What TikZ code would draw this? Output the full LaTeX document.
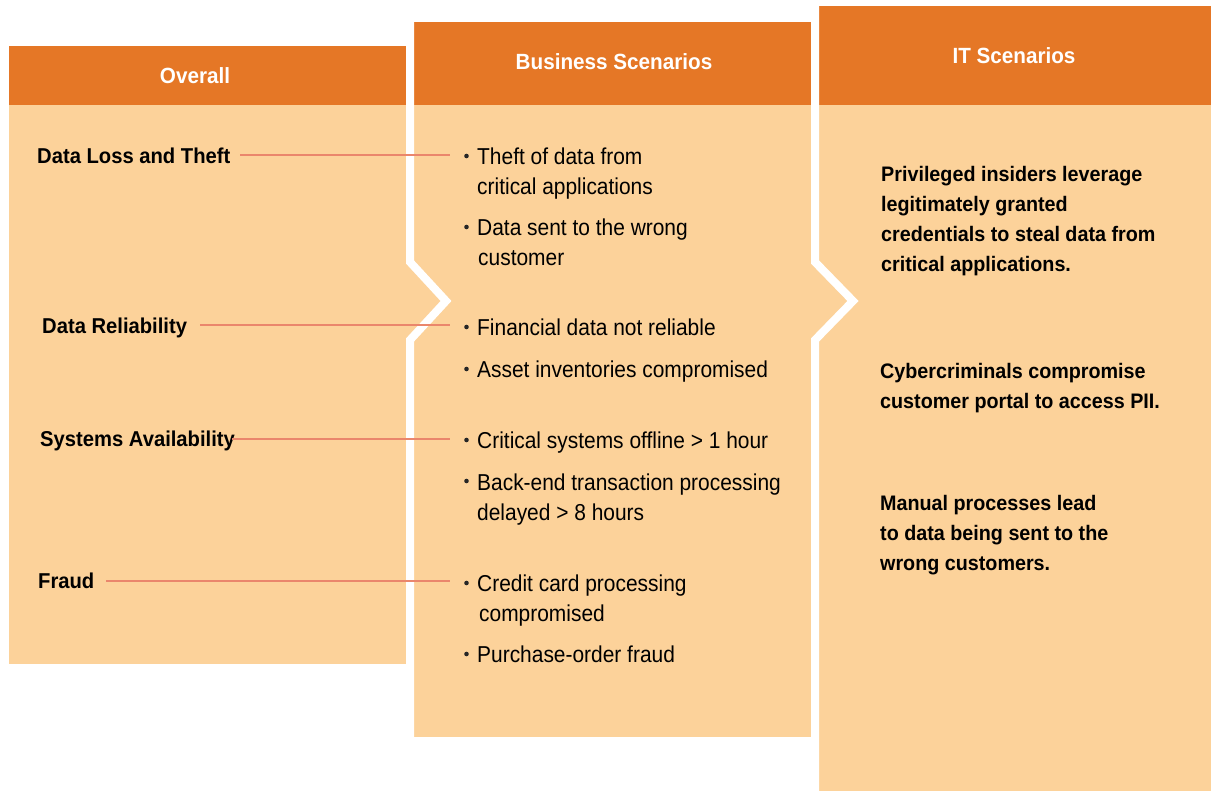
\documentclass[tikz,border=0pt]{standalone}
\usepackage{fontspec}
\setmainfont{Liberation Sans}[FakeStretch=0.91]
\newfontfamily\headfont{Liberation Sans}[FakeStretch=0.94]
\definecolor{headorange}{HTML}{E57726}
\definecolor{bodypeach}{HTML}{FCD29A}
\definecolor{linksalmon}{HTML}{EA866C}
\begin{document}
\begin{tikzpicture}[x=1pt,y=-1pt,
  headtxt/.style={text=white,font=\headfont\bfseries\fontsize{22}{26}\selectfont,inner sep=0pt,
    text height=15.75pt,text depth=0pt,anchor=center},
  cattxt/.style={font=\headfont\bfseries\fontsize{21.5}{26}\selectfont,inner sep=0pt,
    text height=15.4pt,text depth=0pt,anchor=west},
  itemtxt/.style={font=\fontsize{23}{28}\selectfont,inner sep=0pt,
    text height=16.45pt,text depth=0pt,anchor=west},
  ittxt/.style={font=\headfont\bfseries\fontsize{21}{26}\selectfont,inner sep=0pt,
    text height=15.05pt,text depth=0pt,anchor=west},
  dot/.style={circle,fill=black!85,inner sep=0pt,minimum size=4.6pt},
  link/.style={draw=linksalmon,line width=2pt},
  gap/.style={draw=white,line width=8pt,miter limit=10}]
\useasboundingbox (0,0) rectangle (1211,791);

% column bodies
\fill[bodypeach] (9,105) rectangle (410,664);
\fill[bodypeach] (410,105) rectangle (815,737);
\fill[bodypeach] (815,105) rectangle (1211,791);

% column headers
\fill[headorange] (9,46) rectangle (406,105);
\fill[headorange] (414,22) rectangle (811,105);
\fill[headorange] (819,6) rectangle (1211,105);

% white chevron gaps between the columns
\draw[gap] (410,0) -- (410,262) -- (446,301) -- (410,340) -- (410,791);
\draw[gap] (815,0) -- (815,262) -- (853,301) -- (815,340) -- (815,791);

% header titles
\node[headtxt] (hOverall) at (195,76) {Overall};
\node[headtxt] (hBusiness) at (614,62) {Business Scenarios};
\node[headtxt] (hIT) at (1014,56) {IT Scenarios};

% overall categories
\node[cattxt] (cLoss) at (37,156) {Data Loss and Theft};
\node[cattxt] (cRel) at (42,326) {Data Reliability};
\node[cattxt] (cAvail) at (40,438.5) {Systems Availability};
\node[cattxt] (cFraud) at (38,581) {Fraud};

% business scenario bullets
\node[dot] (d1) at (466.5,156) {};
\node[itemtxt] (b1) at (477,156.5) {Theft of data from};
\node[itemtxt] (b1b) at (477,186.5) {critical applications};
\node[dot] (d2) at (466.5,227) {};
\node[itemtxt] (b2) at (477,227) {Data sent to the wrong};
\node[itemtxt] (b2b) at (478,257) {customer};
\node[dot] (d3) at (466.5,327) {};
\node[itemtxt] (b3) at (477,327.5) {Financial data not reliable};
\node[dot] (d4) at (466.5,369) {};
\node[itemtxt] (b4) at (477,369.5) {Asset inventories compromised};
\node[dot] (d5) at (466.5,440) {};
\node[itemtxt] (b5) at (477,440.5) {Critical systems offline > 1 hour};
\node[dot] (d6) at (466.5,481) {};
\node[itemtxt] (b6) at (477,482) {Back-end transaction processing};
\node[itemtxt] (b6b) at (477,512.5) {delayed > 8 hours};
\node[dot] (d7) at (466.5,583) {};
\node[itemtxt] (b7) at (477,583.5) {Credit card processing};
\node[itemtxt] (b7b) at (479,613.5) {compromised};
\node[dot] (d8) at (466.5,654) {};
\node[itemtxt] (b8) at (477,654.5) {Purchase-order fraud};

% IT scenarios
\node[ittxt] (i1) at (881,173.5) {Privileged insiders leverage};
\node[ittxt] (i1b) at (881,203.5) {legitimately granted};
\node[ittxt] (i1c) at (881,234) {credentials to steal data from};
\node[ittxt] (i1d) at (881,264) {critical applications.};
\node[ittxt] (i2) at (880,371) {Cybercriminals compromise};
\node[ittxt] (i2b) at (880,401) {customer portal to access PII.};
\node[ittxt] (i3) at (880,503) {Manual processes lead};
\node[ittxt] (i3b) at (880,533) {to data being sent to the};
\node[ittxt] (i3c) at (880,563) {wrong customers.};

% connector end points
\coordinate (l1s) at (240,155);
\coordinate (l1e) at (450,155);
\coordinate (l2s) at (200,325);
\coordinate (l2e) at (450,325);
\coordinate (l3s) at (232,439);
\coordinate (l3e) at (450,439);
\coordinate (l4s) at (106,581);
\coordinate (l4e) at (450,581);

\draw[link] (l1s) -- (l1e);
\draw[link] (l2s) -- (l2e);
\draw[link] (l3s) -- (l3e);
\draw[link] (l4s) -- (l4e);
\end{tikzpicture}
\end{document}
